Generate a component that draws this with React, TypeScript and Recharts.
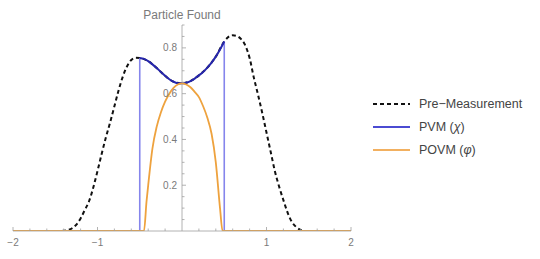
import { Legend, Line, LineChart, ReferenceLine, XAxis, YAxis } from "recharts";

const W = 540;
const H = 259;
const Y_AXIS_W = 1;
const MARGIN = { top: 25, right: 189, bottom: 0, left: 12 };
const CENTER_X = MARGIN.left + Y_AXIS_W + (W - MARGIN.left - Y_AXIS_W - MARGIN.right) / 2;

const AXIS = "#a0a0a0";
const LABEL = "#7a7a7a";
const FONT = "'Liberation Sans', Arial, sans-serif";

// pre-measurement distribution (dashed)
const preX = [-2, -1.45, -1.4, -1.35, -1.3, -1.25, -1.2, -1.15, -1.1, -1.05, -1, -0.95, -0.9, -0.85, -0.8, -0.75, -0.7, -0.65, -0.6, -0.55, -0.5, -0.4, -0.3, -0.2, -0.1, 0, 0.1, 0.2, 0.3, 0.4, 0.5, 0.55, 0.6, 0.65, 0.7, 0.75, 0.8, 0.85, 0.9, 0.95, 1, 1.05, 1.1, 1.15, 1.2, 1.25, 1.3, 1.35, 1.4, 1.45, 2];
const preY = [0, 0, 0.001, 0.004, 0.012, 0.028, 0.055, 0.092, 0.13, 0.19, 0.262, 0.338, 0.41, 0.475, 0.545, 0.615, 0.675, 0.72, 0.747, 0.757, 0.756, 0.742, 0.712, 0.678, 0.652, 0.645, 0.655, 0.68, 0.714, 0.762, 0.828, 0.848, 0.855, 0.852, 0.838, 0.81, 0.756, 0.67, 0.595, 0.515, 0.43, 0.345, 0.26, 0.193, 0.135, 0.08, 0.04, 0.018, 0.005, 0, 0];

// PVM (chi) curve inside the window
const pvmX = [-0.5, -0.45, -0.4, -0.35, -0.3, -0.25, -0.2, -0.15, -0.1, -0.05, 0, 0.05, 0.1, 0.15, 0.2, 0.25, 0.3, 0.35, 0.4, 0.45, 0.5];
const pvmY = [0.756, 0.752, 0.742, 0.728, 0.712, 0.695, 0.678, 0.663, 0.652, 0.646, 0.645, 0.648, 0.655, 0.666, 0.68, 0.695, 0.714, 0.736, 0.762, 0.793, 0.828];
const pvmEdges = [-0.5, 0.5];

// POVM (phi)
const povmX = [-2, -0.45, -0.42, -0.4, -0.35, -0.3, -0.25, -0.2, -0.15, -0.1, -0.05, 0, 0.05, 0.1, 0.15, 0.2, 0.25, 0.3, 0.35, 0.4, 0.45, 0.48, 2];
const povmY = [0, 0, 0.128, 0.2, 0.36, 0.455, 0.518, 0.565, 0.6, 0.625, 0.64, 0.645, 0.64, 0.628, 0.608, 0.585, 0.545, 0.495, 0.425, 0.3, 0.1, 0, 0];

const xTicks = [-2, -1.8, -1.6, -1.4, -1.2, -1, -0.8, -0.6, -0.4, -0.2, 0.2, 0.4, 0.6, 0.8, 1, 1.2, 1.4, 1.6, 1.8, 2];
const xLabels = [-2, -1, 1, 2];
const yTicks = [0.05, 0.1, 0.15, 0.2, 0.25, 0.3, 0.35, 0.4, 0.45, 0.5, 0.55, 0.6, 0.65, 0.7, 0.75, 0.8, 0.85, 0.9];
const yLabels = [0.2, 0.4, 0.6, 0.8];

const zip = (xs: number[], ys: (number | null)[]) => xs.map((x, i) => ({ x, y: ys[i] }));

const preData = zip(preX, preY);
const pvmData = zip(pvmX, pvmY);
const povmData = zip(povmX, povmY);
const pvmBase = [
  { x: -2, y: 0 },
  { x: pvmEdges[0], y: 0 },
  { x: 0, y: null },
  { x: pvmEdges[1], y: 0 },
  { x: 2, y: 0 },
];
const pvmJumps = pvmEdges.map((e) => [
  { x: e, y: 0 },
  { x: e, y: pvmY[pvmX.indexOf(e)] },
]);

const legendItems = [
  { label: "Pre\u2212Measurement", sym: null, color: "#111", dash: "4 3" },
  { label: "PVM (", sym: "\u03c7", color: "#4b4bd2", dash: undefined },
  { label: "POVM (", sym: "\u03c6", color: "#f2b060", dash: undefined },
];

const fmt = (v: number) => (v < 0 ? `\u2212${-v}` : `${v}`);
const near = (a: number, list: number[]) => list.some((b) => Math.abs(a - b) < 1e-6);

function XTick(props: any) {
  const { x, y, payload } = props;
  const v = payload.value;
  const major = Math.abs(v - Math.round(v)) < 1e-6;
  return (
    <g>
      <line x1={x} x2={x} y1={y} y2={y - (major ? 4 : 2.5)} stroke={AXIS} strokeWidth={0.8} />
      {near(v, xLabels) && (
        <text x={x} y={y + 15} textAnchor="middle" fontSize={10} fill={LABEL} fontFamily={FONT}>
          {fmt(v)}
        </text>
      )}
    </g>
  );
}

function YTick(props: any) {
  const { y, payload } = props;
  const v = payload.value;
  const major = near(v, yLabels);
  return (
    <g>
      <line x1={CENTER_X} x2={CENTER_X + (major ? 4 : 2.5)} y1={y} y2={y} stroke={AXIS} strokeWidth={0.8} />
      {major && (
        <text x={CENTER_X - 5} y={y + 3.5} textAnchor="end" fontSize={10} fill={LABEL} fontFamily={FONT}>
          {v}
        </text>
      )}
    </g>
  );
}

function LegendBox() {
  return (
    <div style={{ fontFamily: FONT, fontSize: 12.5, color: "#444" }}>
      {legendItems.map((it) => (
        <div key={it.label} style={{ display: "flex", alignItems: "center", height: 23 }}>
          <svg width={48} height={6}>
            <line x1={2} x2={39} y1={3} y2={3} stroke={it.color} strokeWidth={2} strokeDasharray={it.dash} />
          </svg>
          <span>
            {it.label}
            {it.sym && (
              <>
                <i>{it.sym}</i>)
              </>
            )}
          </span>
        </div>
      ))}
    </div>
  );
}

export default function App() {
  return (
    <div style={{ position: "absolute", left: 0, top: 0, width: W, height: H, background: "#fff" }}>
      <LineChart width={W} height={H} margin={MARGIN}>
        <XAxis
          dataKey="x"
          type="number"
          domain={[-2, 2]}
          ticks={xTicks}
          interval={0}
          height={28}
          tickSize={0}
          tickMargin={0}
          axisLine={{ stroke: AXIS, strokeWidth: 0.8 }}
          tickLine={false}
          tick={<XTick />}
          allowDataOverflow
        />
        <YAxis
          type="number"
          domain={[0, 0.9]}
          ticks={yTicks}
          interval={0}
          width={Y_AXIS_W}
          axisLine={false}
          tickLine={false}
          tick={<YTick />}
          allowDataOverflow
        />
        <ReferenceLine
          x={0}
          stroke={AXIS}
          strokeWidth={0.8}
          label={{ value: "Particle Found", position: "top", offset: 6, fill: LABEL, fontSize: 12, fontFamily: FONT }}
        />
        <Line data={preData} dataKey="y" type="monotone" stroke="#111" strokeWidth={2} strokeDasharray="4 3" dot={false} isAnimationActive={false} />
        <Line data={pvmBase} dataKey="y" type="linear" stroke="#3a3ac0" strokeWidth={1.6} dot={false} isAnimationActive={false} />
        {pvmJumps.map((d, i) => (
          <Line key={i} data={d} dataKey="y" type="linear" stroke="#8585ec" strokeWidth={1.6} dot={false} isAnimationActive={false} />
        ))}
        <Line data={pvmData} dataKey="y" type="monotone" stroke="#2626ac" strokeWidth={2} dot={false} isAnimationActive={false} />
        <Line data={povmData} dataKey="y" type="monotone" stroke="#eea23e" strokeWidth={1.8} dot={false} isAnimationActive={false} />
        <Legend
          layout="vertical"
          align="center"
          verticalAlign="middle"
          content={<LegendBox />}
          wrapperStyle={{ position: "absolute", left: 371, top: 92.5, width: 170 }}
        />
      </LineChart>
    </div>
  );
}
